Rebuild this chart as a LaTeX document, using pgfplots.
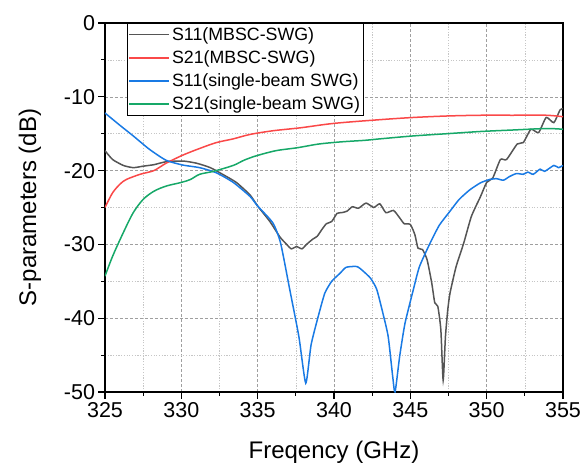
\documentclass[border=0pt]{standalone}
\usepackage{pgfplots}
\pgfplotsset{compat=1.18}
\usepackage{pgfplotstable}
\usepackage{fontspec}
\setmainfont{Liberation Sans}
\definecolor{cgray}{RGB}{85,85,85}
\definecolor{cred}{RGB}{250,72,72}
\definecolor{cblue}{RGB}{25,122,228}
\definecolor{cgreen}{RGB}{22,168,104}

\pgfplotstableread{
x y
325.0 -17.3
325.5 -18.5
326.2 -19.3
326.85 -19.6
327.5 -19.4
328.2 -19.2
329.0 -18.8
330.1 -18.7
331.0 -19.0
331.9 -19.6
332.7 -20.5
333.6 -21.6
334.5 -23.3
335.0 -24.8
335.8 -26.9
336.46 -29.0
336.9 -30.0
337.2 -30.6
337.55 -30.3
337.9 -30.6
338.2 -30.0
338.6 -29.3
338.9 -28.9
339.2 -28.0
339.5 -27.2
339.85 -26.9
340.2 -25.8
340.5 -25.7
340.85 -25.5
341.2 -24.9
341.6 -25.1
342.1 -24.4
342.6 -25.0
343.0 -24.5
343.4 -25.7
343.9 -25.4
344.3 -26.4
344.6 -27.2
345.0 -27.3
345.3 -28.7
345.5 -30.5
345.8 -30.7
346.1 -32.1
346.4 -35.2
346.6 -37.9
346.8 -38.4
347.0 -41.6
347.15 -48.4
347.3 -42.5
347.45 -38.9
347.6 -36.6
348.0 -33.0
348.5 -29.8
349.0 -26.2
349.6 -23.5
350.0 -21.6
350.4 -21.0
350.9 -18.5
351.3 -18.5
352.0 -16.4
352.4 -16.2
352.9 -14.4
353.4 -14.85
353.9 -12.8
354.4 -13.5
354.8 -11.8
355.0 -11.6
}\sOneOneM

\pgfplotstableread{
x y
325.0 -25.0
325.5 -23.0
326.0 -21.8
326.4 -21.2
327.3 -20.5
328.2 -20.0
329.0 -19.0
330.1 -17.9
331.2 -17.0
332.3 -16.2
333.4 -15.7
334.5 -15.1
336.0 -14.6
337.8 -14.2
340.0 -13.6
343.0 -13.1
345.2 -12.8
347.4 -12.6
349.6 -12.5
351.7 -12.5
353.9 -12.5
355.0 -12.7
}\sTwoOneM

\pgfplotstableread{
x y
325.0 -12.2
326.0 -13.9
326.85 -15.3
327.9 -17.1
329.0 -18.6
330.1 -19.25
331.2 -19.6
332.3 -20.3
333.4 -21.6
334.5 -23.5
335.0 -24.8
336.0 -27.1
336.5 -29.8
337.1 -36.1
337.7 -42.5
338.15 -48.8
338.5 -43.6
339.0 -39.5
339.4 -36.6
339.85 -35.0
340.4 -33.9
340.8 -33.1
341.5 -33.0
341.9 -33.6
342.4 -34.6
342.8 -36.1
343.2 -39.3
343.55 -42.5
343.85 -48.0
344.0 -50.0
344.3 -45.2
344.65 -40.7
345.2 -36.1
345.6 -33.0
346.3 -29.8
346.9 -27.4
347.6 -25.5
348.2 -23.9
348.9 -22.6
349.6 -21.65
350.2 -21.2
350.65 -21.1
351.1 -21.3
351.5 -20.8
351.95 -20.4
352.4 -20.5
352.7 -20.2
353.05 -20.5
353.5 -19.8
353.8 -20.1
354.4 -19.3
354.7 -19.6
355.0 -19.3
}\sOneOneS

\pgfplotstableread{
x y
325.0 -34.3
325.5 -31.6
326.2 -28.4
326.85 -25.7
327.5 -23.9
328.2 -22.8
329.0 -22.1
330.0 -21.6
330.6 -21.2
331.2 -20.5
332.1 -20.1
333.4 -19.3
334.1 -18.6
334.9 -18.0
336.2 -17.3
337.6 -16.9
339.0 -16.4
340.5 -16.1
342.0 -15.9
343.0 -15.7
345.2 -15.3
347.4 -15.0
349.6 -14.7
351.7 -14.5
353.9 -14.3
355.0 -14.4
}\sTwoOneS

\begin{document}
\begin{tikzpicture}
\path[use as bounding box] (-105bp,-75bp) rectangle (477bp,392bp);
\begin{axis}[
  at={(0,0)}, anchor=south west,
  scale only axis, width=458bp, height=369bp,
  xmin=325, xmax=355, ymin=-50, ymax=0,
  xtick={325,330,...,355}, ytick={-50,-40,...,0},
  yticklabels={-50,-40,-30,-20,-10,0},
  minor x tick num=1, minor y tick num=1,
  tick pos=left, tick align=outside,
  major tick length=6.5bp, minor tick length=3.5bp,
  grid=both,
  major grid style={gray!75, line width=0.6bp, dash pattern=on 3bp off 2bp},
  minor grid style={gray!45, line width=0.6bp, dash pattern=on 1.2bp off 1.5bp},
  axis line style={line width=1.3bp},
  every tick/.style={black, line width=1.1bp},
  /pgf/number format/assume math mode=true,
  ticklabel style={font=\fontsize{21.5bp}{24bp}\selectfont},
  xlabel={Freqency (GHz)}, ylabel={S-parameters (dB)},
  label style={font=\fontsize{24bp}{28bp}\selectfont},
  xlabel style={at={(axis description cs:0.5,-0.1626)}, anchor=center},
  ylabel style={at={(axis description cs:-0.1638,0.5)}, anchor=center},
  legend style={at={(axis description cs:0.048,1)}, anchor=north west,
    draw=black, line width=0.8bp, fill=white,
    font=\fontsize{17.8bp}{21bp}\selectfont,
    inner xsep=1bp, inner ysep=2bp, row sep=4.8bp},
  legend cell align=left,
  legend image code/.code={\draw[#1, line width=1.7bp] (0bp,0bp) -- (40bp,0bp);},
  every axis plot/.append style={line width=1.5bp},
]
\addplot[cgray, smooth, tension=0.35] table[x=x,y=y] {\sOneOneM};
\addlegendentry{S11(MBSC-SWG)}
\addplot[cred, smooth, tension=0.5] table[x=x,y=y] {\sTwoOneM};
\addlegendentry{S21(MBSC-SWG)}
\addplot[cblue, smooth, tension=0.35] table[x=x,y=y] {\sOneOneS};
\addlegendentry{S11(single-beam SWG)}
\addplot[cgreen, smooth, tension=0.5] table[x=x,y=y] {\sTwoOneS};
\addlegendentry{S21(single-beam SWG)}
\end{axis}
\end{tikzpicture}
\end{document}
